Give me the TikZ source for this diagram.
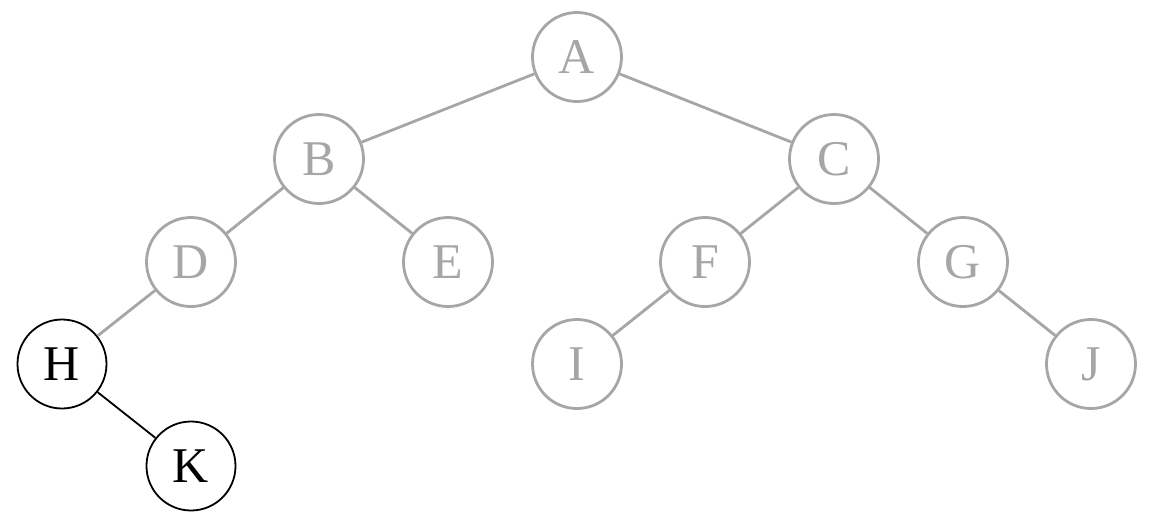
\documentclass[tikz,border=0pt]{standalone}
\usepackage{fontspec}
\setmainfont{Liberation Serif}
\begin{document}
\begin{tikzpicture}[x=0.5pt,y=-0.5pt,
  gnode/.style={circle,draw=gray!70,line width=1.4pt,minimum size=44.5pt,inner sep=0pt,text=gray!70,font=\fontsize{25}{25}\selectfont},
  bnode/.style={circle,draw=black,line width=0.9pt,minimum size=44.5pt,inner sep=0pt,text=black,font=\fontsize{25}{25}\selectfont},
  gedge/.style={draw=gray!70,line width=1.4pt},
  bedge/.style={draw=black,line width=0.9pt}]
\useasboundingbox (0,0) rectangle (1152,525);
\node[gnode] (A) at (577,57) {A};
\node[gnode] (B) at (319,159) {B};
\node[gnode] (C) at (834,159) {C};
\node[gnode] (D) at (191,262) {D};
\node[gnode] (E) at (448,262) {E};
\node[gnode] (F) at (705,262) {F};
\node[gnode] (G) at (963,262) {G};
\node[bnode] (H) at (62,364) {H};
\node[gnode] (I) at (577,364) {I};
\node[gnode] (J) at (1091,364) {J};
\node[bnode] (K) at (191,466) {K};
\draw[gedge] (A) -- (B);
\draw[gedge] (A) -- (C);
\draw[gedge] (B) -- (D);
\draw[gedge] (B) -- (E);
\draw[gedge] (C) -- (F);
\draw[gedge] (C) -- (G);
\draw[gedge] (D) -- (H);
\draw[gedge] (F) -- (I);
\draw[gedge] (G) -- (J);
\draw[bedge] (H) -- (K);
\end{tikzpicture}
\end{document}
